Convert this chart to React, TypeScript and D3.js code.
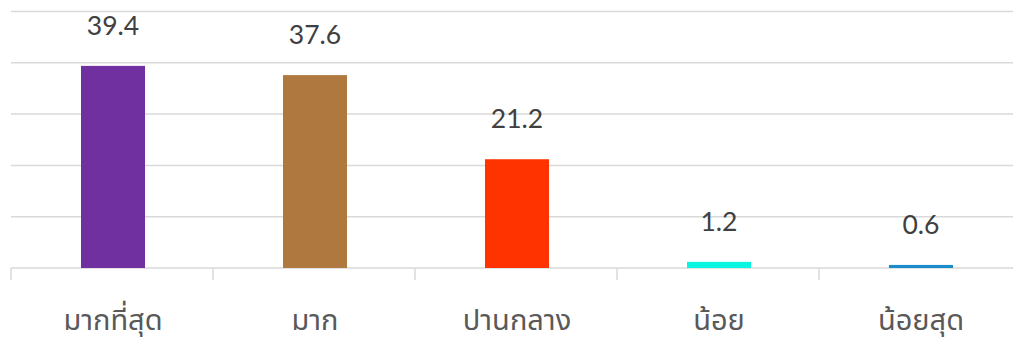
import React from "react";
import * as d3 from "d3";

const categories = ["มากที่สุด", "มาก", "ปานกลาง", "น้อย", "น้อยสุด"];
const values = [39.4, 37.6, 21.2, 1.2, 0.6];
const barColors = ["#7030A0", "#AE783F", "#FF3300", "#0AF5E0", "#1B8BCB"];
const gridTicks = [0, 10, 20, 30, 40, 50];

const W = 1013;
const H = 339;
const FONT = "Lato, 'Noto Sans Thai', 'Noto Sans', sans-serif";

const App: React.FC = () => {
  const left = 11;
  const band = 202;
  const baseY = 268;

  const x = d3
    .scaleBand<string>()
    .domain(categories)
    .range([left, left + band * categories.length])
    .paddingInner(0)
    .paddingOuter(0);

  const y = d3.scaleLinear().domain([0, 50]).range([baseY, 11.5]);

  const barW = 64;

  return (
    <svg
      width={W}
      height={H}
      style={{ position: "absolute", left: 0, top: 0, background: "#fff" }}
    >
      {gridTicks.map((t) => (
        <line
          key={t}
          x1={left}
          x2={W}
          y1={y(t)}
          y2={y(t)}
          stroke="#d9d9d9"
          strokeWidth={1.5}
        />
      ))}
      {categories.map((c) => (
        <line
          key={"t" + c}
          x1={x(c)!}
          x2={x(c)!}
          y1={baseY}
          y2={baseY + 12}
          stroke="#d9d9d9"
          strokeWidth={1.5}
        />
      ))}
      {categories.map((c, i) => {
        const cx = x(c)! + x.bandwidth() / 2 + 1;
        return (
          <g key={c}>
            <rect
              x={cx - barW / 2}
              y={y(values[i])}
              width={barW}
              height={baseY - y(values[i])}
              fill={barColors[i]}
            />
            <text
              x={cx}
              y={y(values[i]) - 31}
              textAnchor="middle"
              fontFamily={FONT}
              fontSize={26.5}
              fill="#404040"
            >
              {values[i].toFixed(1)}
            </text>
            <text
              x={cx}
              y={330}
              textAnchor="middle"
              fontFamily={FONT}
              fontSize={29}
              fill="#595959"
            >
              {c}
            </text>
          </g>
        );
      })}
    </svg>
  );
};

export default App;
